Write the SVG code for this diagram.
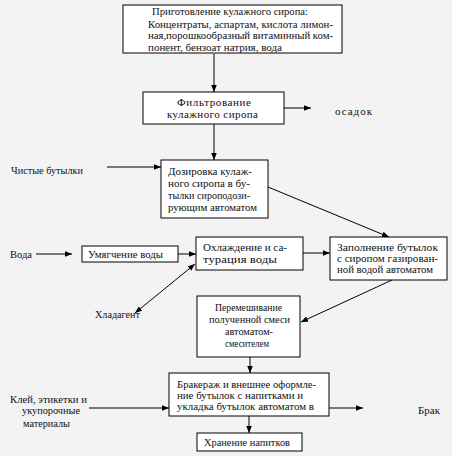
<svg xmlns="http://www.w3.org/2000/svg" width="452" height="456" viewBox="0 0 452 456">
<style>
.bx{fill:#ffffff;stroke:#000;stroke-width:1}
.t{font-family:"Liberation Serif","DejaVu Serif","Times New Roman",serif;font-size:11px;fill:#111}
.c{text-anchor:middle}
.ln{stroke:#000;stroke-width:1;fill:none}
</style>
<defs>
<marker id="ah" viewBox="0 0 10 10" refX="10" refY="5" markerWidth="7" markerHeight="7" orient="auto-start-reverse" markerUnits="userSpaceOnUse">
<path d="M0,1 L10,5 L0,9 z" fill="#000"/>
</marker>
</defs>
<rect x="0" y="0" width="452" height="456" fill="#f3f3f3"/>
<g id="connectors">
<line class="ln" x1="214" y1="54" x2="214" y2="92" marker-end="url(#ah)"/>
<line class="ln" x1="284" y1="108" x2="311" y2="108" marker-end="url(#ah)"/>
<line class="ln" x1="214" y1="124" x2="214" y2="160" marker-end="url(#ah)"/>
<line class="ln" x1="107" y1="167" x2="161" y2="167" marker-end="url(#ah)"/>
<line class="ln" x1="268" y1="187" x2="389" y2="237" marker-end="url(#ah)"/>
<line class="ln" x1="36" y1="254" x2="72" y2="254" marker-end="url(#ah)"/>
<line class="ln" x1="169" y1="254" x2="196" y2="254" marker-end="url(#ah)"/>
<line class="ln" x1="303" y1="253" x2="330" y2="253" marker-end="url(#ah)"/>
<line class="ln" x1="135" y1="313" x2="195" y2="264" marker-start="url(#ah)" marker-end="url(#ah)"/>
<line class="ln" x1="392" y1="280" x2="301" y2="322" marker-end="url(#ah)"/>
<line class="ln" x1="250" y1="357" x2="250" y2="373" marker-end="url(#ah)"/>
<line class="ln" x1="89" y1="408" x2="169" y2="408" marker-end="url(#ah)"/>
<line class="ln" x1="329" y1="408" x2="363" y2="408" marker-end="url(#ah)"/>
<line class="ln" x1="249" y1="416" x2="249" y2="433" marker-end="url(#ah)"/>
</g>
<g id="n1">
<rect class="bx" x="123" y="5" width="219" height="48"/>
<text class="t" x="152" y="15" textLength="156" lengthAdjust="spacingAndGlyphs">Приготовление кулажного сиропа:</text>
<text class="t" x="148" y="28" textLength="185" lengthAdjust="spacingAndGlyphs">Концентраты, аспартам, кислота лимон-</text>
<text class="t" x="148" y="39" textLength="185" lengthAdjust="spacingAndGlyphs">ная,порошкообразный витаминный ком-</text>
<text class="t" x="148" y="51" textLength="134" lengthAdjust="spacingAndGlyphs">понент, бензоат натрия, вода</text>
</g>
<g id="n2">
<rect class="bx" x="143" y="92" width="141" height="32"/>
<text class="t" x="177" y="106" textLength="74" lengthAdjust="spacing">Фильтрование</text>
<text class="t" x="167" y="118" textLength="91" lengthAdjust="spacing">кулажного сиропа</text>
</g>
<g id="l-osadok"><text class="t" x="335" y="115" textLength="37" lengthAdjust="spacing">осадок</text></g>
<g id="l-bottles"><text class="t" x="11" y="174" textLength="72" lengthAdjust="spacingAndGlyphs">Чистые бутылки</text></g>
<g id="n3">
<rect class="bx" x="161" y="160" width="107" height="58"/>
<text class="t" x="168" y="175" textLength="84" lengthAdjust="spacingAndGlyphs">Дозировка кулаж-</text>
<text class="t" x="168" y="187" textLength="82" lengthAdjust="spacingAndGlyphs">ного сиропа в бу-</text>
<text class="t" x="168" y="199" textLength="82" lengthAdjust="spacingAndGlyphs">тылки сироподози-</text>
<text class="t" x="168" y="211" textLength="89" lengthAdjust="spacingAndGlyphs">рующим автоматом</text>
</g>
<g id="l-voda"><text class="t" x="10" y="258" textLength="22" lengthAdjust="spacingAndGlyphs">Вода</text></g>
<g id="n4">
<rect class="bx" x="82" y="246" width="96" height="16"/>
<text class="t" x="88" y="258" textLength="75" lengthAdjust="spacingAndGlyphs">Умягчение воды</text>
</g>
<g id="n5">
<rect class="bx" x="196" y="237" width="107" height="33"/>
<text class="t" x="203" y="251" textLength="84" lengthAdjust="spacingAndGlyphs">Охлаждение и са-</text>
<text class="t" x="203" y="263" textLength="74" lengthAdjust="spacingAndGlyphs">турация воды</text>
</g>
<g id="n6">
<rect class="bx" x="330" y="237" width="117" height="43"/>
<text class="t" x="337" y="251" textLength="101" lengthAdjust="spacingAndGlyphs">Заполнение бутылок</text>
<text class="t" x="337" y="262" textLength="101" lengthAdjust="spacingAndGlyphs">с сиропом газирован-</text>
<text class="t" x="337" y="273" textLength="96" lengthAdjust="spacingAndGlyphs">ной водой автоматом</text>
</g>
<g id="l-hlad"><text class="t" x="95" y="318" textLength="45" lengthAdjust="spacingAndGlyphs">Хладагент</text></g>
<g id="n7">
<rect class="bx" x="197" y="296" width="103" height="61"/>
<text class="t" x="215" y="311" textLength="67" lengthAdjust="spacingAndGlyphs">Перемешивание</text>
<text class="t" x="209" y="323" textLength="81" lengthAdjust="spacingAndGlyphs">полученной смеси</text>
<text class="t" x="225" y="335" textLength="48" lengthAdjust="spacingAndGlyphs">автоматом-</text>
<text class="t" x="225" y="347" textLength="44" lengthAdjust="spacingAndGlyphs">смесителем</text>
</g>
<g id="n8">
<rect class="bx" x="169" y="373" width="160" height="43"/>
<text class="t" x="177" y="388" textLength="139" lengthAdjust="spacingAndGlyphs">Бракераж и внешнее оформле-</text>
<text class="t" x="177" y="399" textLength="126" lengthAdjust="spacingAndGlyphs">ние бутылок с напитками и</text>
<text class="t" x="177" y="410" textLength="137" lengthAdjust="spacingAndGlyphs">укладка бутылок автоматом в</text>
</g>
<g id="l-glue">
<text class="t" x="10" y="403" textLength="77" lengthAdjust="spacingAndGlyphs">Клей, этикетки и</text>
<text class="t" x="22" y="414" textLength="58" lengthAdjust="spacingAndGlyphs">укупорочные</text>
<text class="t" x="23" y="427" textLength="47" lengthAdjust="spacingAndGlyphs">материалы</text>
</g>
<g id="l-brak"><text class="t" x="418" y="414" textLength="22" lengthAdjust="spacingAndGlyphs">Брак</text></g>
<g id="n9">
<rect class="bx" x="197" y="433" width="105" height="18"/>
<text class="t" x="204" y="446" textLength="86" lengthAdjust="spacingAndGlyphs">Хранение напитков</text>
</g>
</svg>
